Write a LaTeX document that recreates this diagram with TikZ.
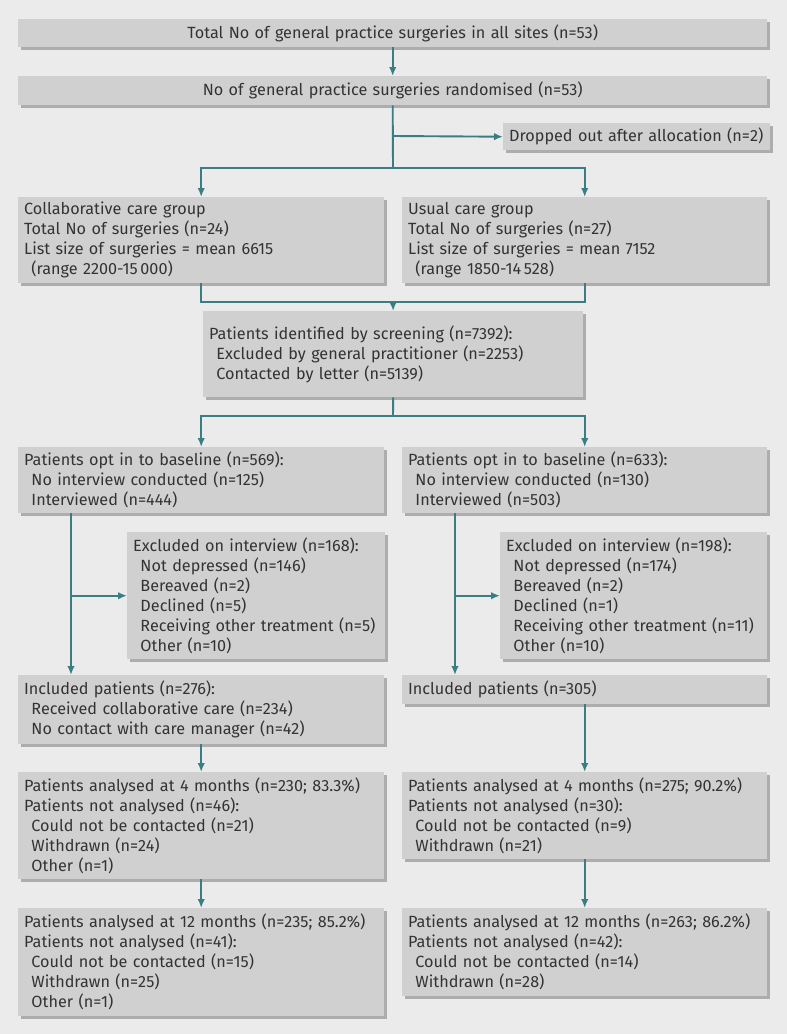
\documentclass[tikz,border=0pt]{standalone}
\usepackage{fontspec}
\setmainfont{Fira Sans}
\usepackage{xcolor}
\usepackage{tikz}
\usetikzlibrary{arrows.meta, positioning, calc, shadows}

\definecolor{bgcol}{HTML}{EBEBEB}
\definecolor{boxcol}{HTML}{D0D0D0}
\definecolor{shadcol}{HTML}{ADADAD}
\definecolor{tealcol}{HTML}{3A7E82}
\definecolor{txtcol}{HTML}{333333}
\newcommand{\indt}{\hspace*{0.45em}}

\begin{document}
\begin{tikzpicture}[
    x=1pt, y=-1pt,
    box/.style={rectangle, fill=boxcol, text=txtcol, anchor=north west, align=left, inner xsep=6pt, inner ysep=0pt,
        font=\fontsize{16.2}{20}\selectfont,
        drop shadow={shadow xshift=3pt, shadow yshift=-3pt, fill=shadcol, opacity=1}},
    wbox/.style={box, align=center},
    e/.style={-{Latex[length=9pt, width=7.5pt]}, line width=1.9pt, draw=tealcol},
    ln/.style={line width=1.9pt, draw=tealcol},
]
    \fill[bgcol] (0,0) rectangle (787,1034);
    \useasboundingbox (0,0) rectangle (787,1034);

    % top of the flow
    \node[wbox, text width=737pt, minimum height=28pt] (tot) at (18,19) {Total No of general practice surgeries in all sites (n=53)};
    \node[wbox, text width=737pt, minimum height=29pt] (rand) at (18,76) {No of general practice surgeries randomised (n=53)};
    \node[box, text width=255pt, minimum height=27pt] (drop) at (503,123) {Dropped out after allocation (n=2)};
    \node[box, text width=354pt, minimum height=86pt] (collab) at (18,197) {Collaborative care group\\Total No of surgeries (n=24)\\List size of surgeries = mean 6615\\\indt(range 2200-15\,000)};
    \node[box, text width=353pt, minimum height=86pt] (usual) at (402,197) {Usual care group\\Total No of surgeries (n=27)\\List size of surgeries = mean 7152\\\indt(range 1850-14\,528)};
    \node[box, text width=368pt, minimum height=86pt] (screen) at (203,311) {Patients identified by screening (n=7392):\\\indt Excluded by general practitioner (n=2253)\\\indt Contacted by letter (n=5139)};

    % baseline and exclusions
    \node[box, text width=354pt, minimum height=66pt] (optL) at (18,447) {Patients opt in to baseline (n=569):\\\indt No interview conducted (n=125)\\\indt Interviewed (n=444)};
    \node[box, text width=353pt, minimum height=66pt] (optR) at (402,447) {Patients opt in to baseline (n=633):\\\indt No interview conducted (n=130)\\\indt Interviewed (n=503)};
    \node[box, text width=246pt, minimum height=127pt] (exclL) at (127,532) {Excluded on interview (n=168):\\\indt Not depressed (n=146)\\\indt Bereaved (n=2)\\\indt Declined (n=5)\\\indt Receiving other treatment (n=5)\\\indt Other (n=10)};
    \node[box, text width=255pt, minimum height=127pt] (exclR) at (500,532) {Excluded on interview (n=198):\\\indt Not depressed (n=174)\\\indt Bereaved (n=2)\\\indt Declined (n=1)\\\indt Receiving other treatment (n=11)\\\indt Other (n=10)};

    % follow up
    \node[box, text width=354pt, minimum height=69pt] (inclL) at (18,675) {Included patients (n=276):\\\indt Received collaborative care (n=234)\\\indt No contact with care manager (n=42)};
    \node[box, text width=353pt, minimum height=29pt] (inclR) at (402,675) {Included patients (n=305)};
    \node[box, text width=354pt, minimum height=107pt] (m4L) at (18,772) {Patients analysed at 4 months (n=230; 83.3\%)\\Patients not analysed (n=46):\\\indt Could not be contacted (n=21)\\\indt Withdrawn (n=24)\\\indt Other (n=1)};
    \node[box, text width=353pt, minimum height=87pt] (m4R) at (402,772) {Patients analysed at 4 months (n=275; 90.2\%)\\Patients not analysed (n=30):\\\indt Could not be contacted (n=9)\\\indt Withdrawn (n=21)};
    \node[box, text width=354pt, minimum height=108pt] (m12L) at (18,908) {Patients analysed at 12 months (n=235; 85.2\%)\\Patients not analysed (n=41):\\\indt Could not be contacted (n=15)\\\indt Withdrawn (n=25)\\\indt Other (n=1)};
    \node[box, text width=353pt, minimum height=88pt] (m12R) at (402,908) {Patients analysed at 12 months (n=263; 86.2\%)\\Patients not analysed (n=42):\\\indt Could not be contacted (n=14)\\\indt Withdrawn (n=28)};

    % junction points
    \coordinate (s1) at (393,168);
    \coordinate (d1) at (393,136);
    \coordinate (j1) at (393,302);
    \coordinate (s2) at (393,416);
    \coordinate (cL) at (71,0);
    \coordinate (cR) at (455,0);

    \draw[e] (tot) -- (rand);
    \draw[ln] (rand.south) -- (s1);
    \draw[e] (d1) -- (drop.west);
    \draw[e] (s1) -| (collab.north);
    \draw[e] (s1) -| (usual.north);
    \draw[ln] (collab.south) |- (j1);
    \draw[ln] (usual.south) |- (j1);
    \draw[e] (j1) -- (screen.north);
    \draw[ln] (screen.south) -- (s2);
    \draw[e] (s2) -| (optL.north);
    \draw[e] (s2) -| (optR.north);
    \draw[e] (optL.south -| cL) -- (inclL.north -| cL);
    \draw[e] (cL |- exclL.west) -- (exclL.west);
    \draw[e] (optR.south -| cR) -- (inclR.north -| cR);
    \draw[e] (cR |- exclR.west) -- (exclR.west);
    \draw[e] (inclL) -- (m4L);
    \draw[e] (m4L) -- (m12L);
    \draw[e] (inclR) -- (m4R);
    \draw[e] (m4R) -- (m12R);
\end{tikzpicture}
\end{document}
